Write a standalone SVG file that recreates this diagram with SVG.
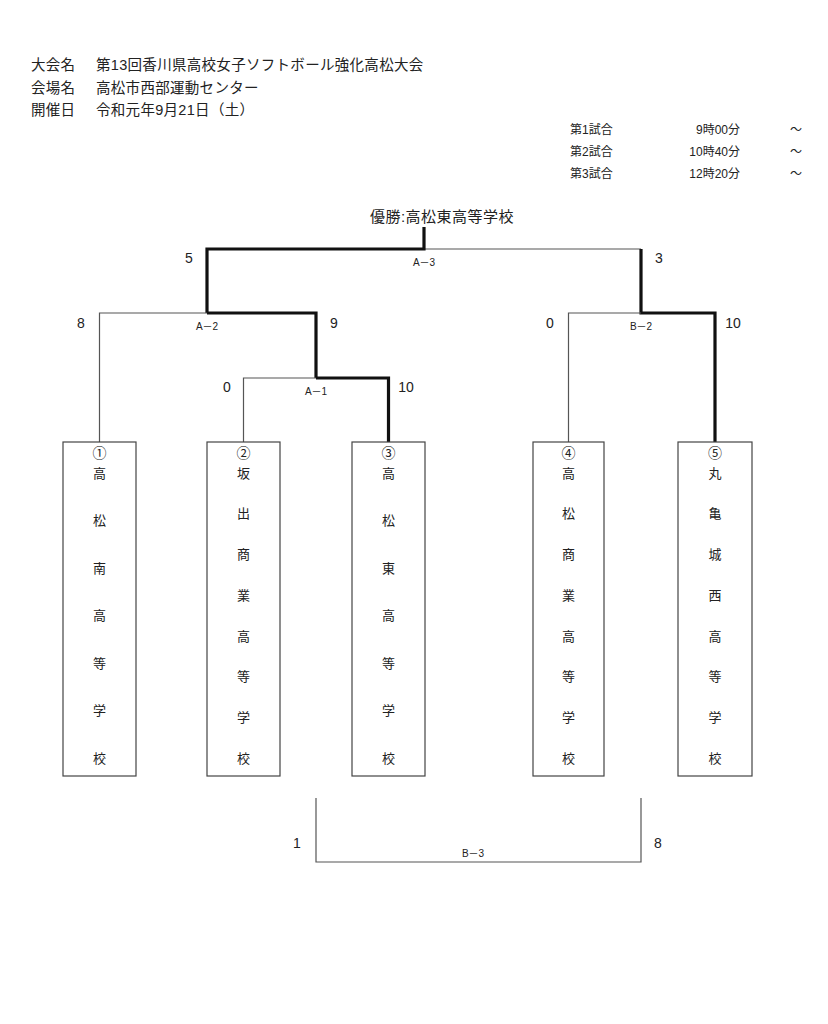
<svg xmlns="http://www.w3.org/2000/svg" width="828" height="1024" viewBox="0 0 828 1024">
<style>
text{font-family:"Liberation Sans","Noto Sans CJK JP",sans-serif;fill:#222}
.h{font-size:14.5px;letter-spacing:0.3px}
.t{font-size:12px}
.s{font-size:14px;text-anchor:middle}
.l{font-size:10px;text-anchor:middle}
.v{font-size:13px;text-anchor:middle}
.c{font-size:14px;text-anchor:middle}
.box{fill:#fff;stroke:#444;stroke-width:1.2}
.thin{fill:none;stroke:#555;stroke-width:1.2}
.thick{fill:none;stroke:#111;stroke-width:3.2}
</style>
<rect width="828" height="1024" fill="#fff"/>
<g id="header">
<text class="h" x="31" y="70">大会名</text>
<text class="h" x="96" y="70">第13回香川県高校女子ソフトボール強化高松大会</text>
<text class="h" x="31" y="93">会場名</text>
<text class="h" x="96" y="93">高松市西部運動センター</text>
<text class="h" x="31" y="115">開催日</text>
<text class="h" x="96" y="115">令和元年9月21日（土）</text>
</g>
<g id="schedule">
<text class="t" x="570" y="134">第1試合</text>
<text class="t" x="740" y="134" text-anchor="end">9時00分</text>
<text class="t" x="796" y="134" text-anchor="middle">～</text>
<text class="t" x="570" y="156">第2試合</text>
<text class="t" x="740" y="156" text-anchor="end">10時40分</text>
<text class="t" x="796" y="156" text-anchor="middle">～</text>
<text class="t" x="570" y="178">第3試合</text>
<text class="t" x="740" y="178" text-anchor="end">12時20分</text>
<text class="t" x="796" y="178" text-anchor="middle">～</text>
</g>
<g id="winner"><text x="442" y="222" style="font-size:15px;text-anchor:middle;letter-spacing:0.5px">優勝:高松東高等学校</text></g>
<g id="connectors">
<path class="thin" d="M424 249H641"/>
<path class="thick" d="M424 227V249H207V313"/>
<path class="thin" d="M99.5 442V313H207"/>
<path class="thick" d="M207 313H316V378"/>
<path class="thin" d="M243.5 442V378H316"/>
<path class="thick" d="M316 378H388.5V442"/>
<path class="thick" d="M641 249V313H715V442"/>
<path class="thin" d="M568.5 442V313H641"/>
<path class="thin" d="M316 798V862H641V798"/>
</g>
<g id="labels">
<text class="s" x="189" y="263">5</text>
<text class="s" x="659" y="263">3</text>
<text class="l" x="424" y="266">A－3</text>
<text class="s" x="81" y="328">8</text>
<text class="s" x="334" y="328">9</text>
<text class="l" x="207" y="330">A－2</text>
<text class="s" x="227" y="392">0</text>
<text class="s" x="406" y="392">10</text>
<text class="l" x="316" y="395">A－1</text>
<text class="s" x="550" y="328">0</text>
<text class="s" x="733" y="328">10</text>
<text class="l" x="641" y="330">B－2</text>
<text class="s" x="297" y="848">1</text>
<text class="s" x="658" y="848">8</text>
<text class="l" x="473" y="857">B－3</text>
</g>
<g id="team1">
<rect class="box" x="63" y="442" width="73" height="334"/>
<text class="c" x="99.5" y="458">①</text>
<text class="v" x="99.5" y="478">高</text><text class="v" x="99.5" y="525">松</text><text class="v" x="99.5" y="573">南</text><text class="v" x="99.5" y="620">高</text><text class="v" x="99.5" y="668">等</text><text class="v" x="99.5" y="715">学</text><text class="v" x="99.5" y="763">校</text>
</g>
<g id="team2">
<rect class="box" x="207" y="442" width="73" height="334"/>
<text class="c" x="243.5" y="458">②</text>
<text class="v" x="243.5" y="478">坂</text><text class="v" x="243.5" y="518">出</text><text class="v" x="243.5" y="559">商</text><text class="v" x="243.5" y="600">業</text><text class="v" x="243.5" y="641">高</text><text class="v" x="243.5" y="681">等</text><text class="v" x="243.5" y="722">学</text><text class="v" x="243.5" y="763">校</text>
</g>
<g id="team3">
<rect class="box" x="352" y="442" width="73" height="334"/>
<text class="c" x="388.5" y="458">③</text>
<text class="v" x="388.5" y="478">高</text><text class="v" x="388.5" y="525">松</text><text class="v" x="388.5" y="573">東</text><text class="v" x="388.5" y="620">高</text><text class="v" x="388.5" y="668">等</text><text class="v" x="388.5" y="715">学</text><text class="v" x="388.5" y="763">校</text>
</g>
<g id="team4">
<rect class="box" x="533" y="442" width="71" height="334"/>
<text class="c" x="568.5" y="458">④</text>
<text class="v" x="568.5" y="478">高</text><text class="v" x="568.5" y="518">松</text><text class="v" x="568.5" y="559">商</text><text class="v" x="568.5" y="600">業</text><text class="v" x="568.5" y="641">高</text><text class="v" x="568.5" y="681">等</text><text class="v" x="568.5" y="722">学</text><text class="v" x="568.5" y="763">校</text>
</g>
<g id="team5">
<rect class="box" x="678" y="442" width="74" height="334"/>
<text class="c" x="715" y="458">⑤</text>
<text class="v" x="715" y="478">丸</text><text class="v" x="715" y="518">亀</text><text class="v" x="715" y="559">城</text><text class="v" x="715" y="600">西</text><text class="v" x="715" y="641">高</text><text class="v" x="715" y="681">等</text><text class="v" x="715" y="722">学</text><text class="v" x="715" y="763">校</text>
</g>
</svg>
